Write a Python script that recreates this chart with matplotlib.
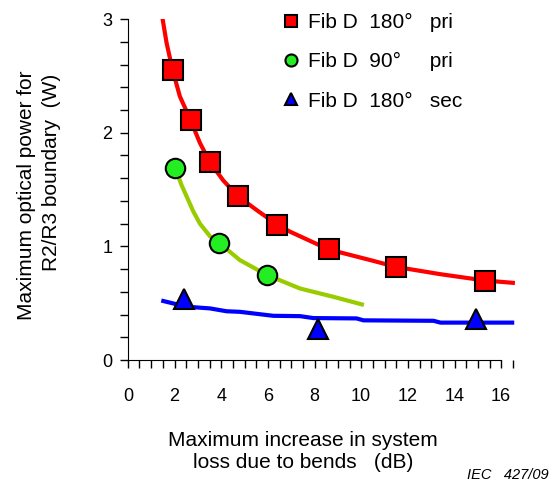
import matplotlib.pyplot as plt
from matplotlib.ticker import MultipleLocator

plt.rcParams['font.family'] = ['Liberation Sans', 'DejaVu Sans']

# measured points
red_x = [1.92, 2.69, 3.52, 4.73, 6.41, 8.6, 11.5, 15.32]
red_y = [2.55, 2.11, 1.74, 1.44, 1.19, 0.974, 0.82, 0.70]
green_x = [2.02, 3.92, 5.95]
green_y = [1.69, 1.03, 0.75]
blue_x = [2.4, 8.15, 14.9]
blue_y = [0.54, 0.27, 0.36]

# trend curves
red_fit_x = [1.49, 1.66, 1.92, 2.23, 2.69, 3.09, 3.52, 4.09, 4.73, 5.52, 6.41, 6.95,
             8.6, 10.39, 11.5, 13.39, 15.32, 16.5]
red_fit_y = [3.0, 2.79, 2.55, 2.32, 2.11, 1.91, 1.74, 1.58, 1.44, 1.32, 1.19, 1.13,
             0.974, 0.88, 0.82, 0.756, 0.70, 0.68]
green_fit_x = [2.09, 2.3, 2.52, 2.8, 3.09, 3.52, 3.92, 4.8, 5.95, 7.38, 8.81, 10.03]
green_fit_y = [1.66, 1.54, 1.44, 1.31, 1.20, 1.09, 1.03, 0.88, 0.75, 0.63, 0.557, 0.49]
blue_fit_x = [1.52, 2.52, 3.52, 4.23, 4.8, 6.23, 7.38, 7.95, 9.8, 10.1, 13.1, 13.4, 16.47]
blue_fit_y = [0.52, 0.47, 0.455, 0.43, 0.425, 0.39, 0.387, 0.37, 0.367, 0.35, 0.346, 0.33, 0.33]

fig = plt.figure(figsize=(5.51, 4.88), dpi=100)
ax = fig.add_axes([0.232, 0.262, 0.703, 0.699])

ax.plot(red_fit_x, red_fit_y, color='#ff0000', lw=3, zorder=2)
ax.plot(green_fit_x, green_fit_y, color='#99cc00', lw=3, zorder=2)
ax.plot(blue_fit_x, blue_fit_y, color='#0000ff', lw=3, zorder=2)

ax.plot(red_x, red_y, 's', ms=14, mfc='#ff0000', mec='black', mew=1.5, zorder=3,
        label='Fib D  180°   pri')
ax.plot(green_x, green_y, 'o', ms=14, mfc='#22ee22', mec='black', mew=1.5, zorder=3,
        label='Fib D  90°     pri')
ax.plot(blue_x, blue_y, '^', ms=15, mfc='#0000ff', mec='black', mew=1.5, zorder=3,
        label='Fib D  180°   sec')

ax.set_xlim(0, 16.6)
ax.set_ylim(0, 3)
ax.spines['top'].set_visible(False)
ax.spines['right'].set_visible(False)
ax.spines['bottom'].set_bounds(0, 16)
ax.xaxis.set_major_locator(MultipleLocator(2))
ax.xaxis.set_minor_locator(MultipleLocator(0.5))
ax.yaxis.set_major_locator(MultipleLocator(1))
ax.yaxis.set_minor_locator(MultipleLocator(0.2))
ax.tick_params(which='both', direction='out', length=6, width=1, labelsize=13)
ax.tick_params(axis='x', which='both', pad=14)
ax.tick_params(axis='y', which='both', pad=5)

# axis titles
fig.text(0.049, 0.60, 'Maximum optical power for', rotation=90, fontsize=15,
         ha='center', va='center')
fig.text(0.094, 0.647, 'R2/R3 boundary  (W)', rotation=90, fontsize=15,
         ha='center', va='center')
fig.text(0.55, 0.116, 'Maximum increase in system\nloss due to bends   (dB)',
         fontsize=15, ha='center', va='top', multialignment='center', linespacing=1.15)
fig.text(0.995, 0.012, 'IEC   427/09', fontsize=10.5, style='italic', ha='right', va='bottom')

ax.legend(loc='upper left', bbox_to_anchor=(0.378, 1.042), frameon=False, fontsize=15,
          handlelength=0.8, handletextpad=0.41, labelspacing=0.97, markerscale=0.62,
          numpoints=1, borderaxespad=0)

fig.savefig('out.png', dpi=100)
